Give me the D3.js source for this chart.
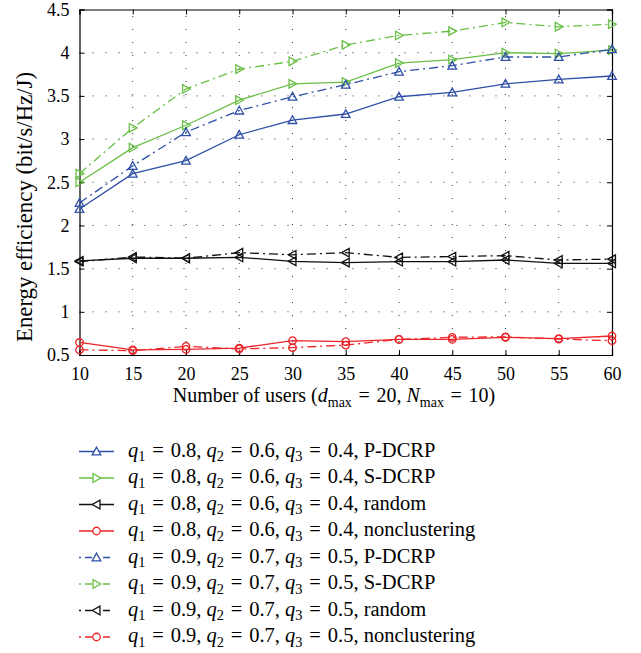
<!DOCTYPE html>
<html>
<head>
<meta charset="utf-8">
<script src="https://cdn.jsdelivr.net/npm/d3@7"></script>
<style>
  html, body { margin: 0; padding: 0; background: #fff; }
  svg text { font-family: 'Liberation Serif', serif; }
</style>
</head>
<body>
<svg id="chart" width="641" height="653"></svg>
<script>
// number of users (x axis)
const users = [10, 15, 20, 25, 30, 35, 40, 45, 50, 55, 60];
const yTicks = [0.5, 1, 1.5, 2, 2.5, 3, 3.5, 4, 4.5];

// q1 = 0.8, q2 = 0.6, q3 = 0.4  (solid)
const pdcrpA  = [2.19, 2.60, 2.75, 3.05, 3.22, 3.29, 3.49, 3.54, 3.64, 3.69, 3.73];
const sdcrpA  = [2.50, 2.90, 3.16, 3.45, 3.64, 3.66, 3.88, 3.92, 4.00, 3.99, 4.03];
const randomA = [1.59, 1.62, 1.62, 1.63, 1.585, 1.57, 1.58, 1.58, 1.60, 1.56, 1.56];
const noncluA = [0.645, 0.56, 0.565, 0.58, 0.666, 0.655, 0.68, 0.68, 0.705, 0.69, 0.72];
// q1 = 0.9, q2 = 0.7, q3 = 0.5  (dash-dot)
const pdcrpB  = [2.26, 2.69, 3.08, 3.33, 3.49, 3.63, 3.78, 3.85, 3.95, 3.95, 4.04];
const sdcrpB  = [2.60, 3.13, 3.58, 3.81, 3.90, 4.09, 4.20, 4.25, 4.35, 4.30, 4.33];
const randomB = [1.58, 1.635, 1.62, 1.685, 1.66, 1.685, 1.63, 1.64, 1.65, 1.60, 1.61];
const noncluB = [0.56, 0.55, 0.60, 0.57, 0.585, 0.615, 0.68, 0.705, 0.71, 0.685, 0.666];

const qA = ["0.8", "0.6", "0.4"];
const qB = ["0.9", "0.7", "0.5"];
const methods = ["P-DCRP", "S-DCRP", "random", "nonclustering"];

const colors = { "P-DCRP": "#2d4fa6", "S-DCRP": "#69bf45", "random": "#111111", "nonclustering": "#ec2428" };
const shapes = { "P-DCRP": "up", "S-DCRP": "right", "random": "left", "nonclustering": "circle" };

const series = [
  { m: methods[0], q: qA, dash: false, v: pdcrpA },
  { m: methods[1], q: qA, dash: false, v: sdcrpA },
  { m: methods[2], q: qA, dash: false, v: randomA },
  { m: methods[3], q: qA, dash: false, v: noncluA },
  { m: methods[0], q: qB, dash: true, v: pdcrpB },
  { m: methods[1], q: qB, dash: true, v: sdcrpB },
  { m: methods[2], q: qB, dash: true, v: randomB },
  { m: methods[3], q: qB, dash: true, v: noncluB }
];

const FONT = "'Liberation Serif', serif";
const EQ = "\u2004=\u2004";
const L = 79.5, R = 612, T = 9.5, B = 355;
const svg = d3.select("#chart");

const x = d3.scaleLinear().domain([10, 60]).range([L, R]);
const y = d3.scaleLinear().domain([0.5, 4.5]).range([B, T]);

const dashPat = "9,4,2,4";

// grid
const grid = svg.append("g").attr("stroke", "#333").attr("stroke-width", 1).attr("stroke-dasharray", "1,12");
grid.selectAll(".gx").data(users.slice(1, -1)).join("line")
  .attr("x1", d => x(d)).attr("x2", d => x(d)).attr("y1", B).attr("y2", T);
grid.selectAll(".gy").data(yTicks.slice(1, -1)).join("line")
  .attr("y1", d => y(d)).attr("y2", d => y(d)).attr("x1", L).attr("x2", R);

// axes, ticks pointing inward
const fmt = d3.format("~g");
svg.append("g").attr("transform", `translate(0,${B})`)
  .call(d3.axisBottom(x).tickValues(users).tickSize(-5).tickPadding(12).tickFormat(fmt));
svg.append("g").attr("transform", `translate(0,${T})`)
  .call(d3.axisTop(x).tickValues(users).tickSize(-5).tickFormat(""));
svg.append("g").attr("transform", `translate(${L},0)`)
  .call(d3.axisLeft(y).tickValues(yTicks).tickSize(-5).tickPadding(10).tickFormat(fmt));
svg.append("g").attr("transform", `translate(${R},0)`)
  .call(d3.axisRight(y).tickValues(yTicks).tickSize(-5).tickFormat(""));
svg.selectAll(".domain").attr("stroke", "#000").attr("stroke-width", 1.2);
svg.selectAll(".tick line").attr("stroke", "#000").attr("stroke-width", 1);
svg.selectAll(".tick text").attr("font-size", 18).attr("fill", "#000").style("font-family", FONT);

function markerPath(shape) {
  const s = 4.3;
  if (shape === "up") return `M0,${-s}L${s},${s * 0.8}L${-s},${s * 0.8}Z`;
  if (shape === "right") return `M${s},0L${-s * 0.8},${s}L${-s * 0.8},${-s}Z`;
  if (shape === "left") return `M${-s},0L${s * 0.8},${s}L${s * 0.8},${-s}Z`;
  return d3.symbol(d3.symbolCircle, 44)();
}

const line = d3.line().x((d, i) => x(users[i])).y(d => y(d));

const plot = svg.append("g");
series.forEach(s => {
  const c = colors[s.m];
  plot.append("path").attr("d", line(s.v)).attr("fill", "none")
    .attr("stroke", c).attr("stroke-width", 1.3)
    .attr("stroke-dasharray", s.dash ? dashPat : null);
  plot.selectAll(null).data(s.v).join("path")
    .attr("d", markerPath(shapes[s.m]))
    .attr("transform", (d, i) => `translate(${x(users[i])},${y(d)})`)
    .attr("fill", "none").attr("stroke", c).attr("stroke-width", 1.3);
});

// rich text helper: parts = [text, style]
function rich(t, parts, size) {
  let shift = 0;
  t.style("font-family", FONT);
  parts.forEach(([txt, st]) => {
    const sp = t.append("tspan").text(txt);
    if (st === "i") sp.attr("font-style", "italic");
    if (st === "sub") {
      sp.attr("font-size", size * 0.7).attr("dy", size * 0.24);
      shift = size * 0.24;
    } else if (shift) {
      sp.attr("dy", -shift);
      shift = 0;
    }
  });
}

// axis labels
const xl = svg.append("text").attr("x", 334).attr("y", 402)
  .attr("text-anchor", "middle").attr("font-size", 20);
rich(xl, [["Number of users (", ""], ["d", "i"], ["max", "sub"], [EQ + "20, ", ""], ["N", "i"], ["max", "sub"], [EQ + "10)", ""]], 20);

svg.append("text").attr("transform", "translate(32,207) rotate(-90)")
  .attr("text-anchor", "middle").attr("font-size", 22.8).style("font-family", FONT)
  .text("Energy efficiency (bit/s/Hz/J)");

// legend
const lg = svg.append("g");
series.forEach((s, k) => {
  const ry = 451.5 + k * 26.5;
  const c = colors[s.m];
  lg.append("line").attr("x1", 79).attr("x2", 114).attr("y1", ry).attr("y2", ry)
    .attr("stroke", c).attr("stroke-width", 1.3)
    .attr("stroke-dasharray", s.dash ? "2,4,7,5" : null);
  lg.append("path").attr("d", markerPath(shapes[s.m]))
    .attr("transform", `translate(96.5,${ry})`)
    .attr("fill", "#fff").attr("stroke", c).attr("stroke-width", 1.3);
  const t = lg.append("text").attr("x", 128).attr("y", ry + 5).attr("font-size", 20.5);
  rich(t, [["q", "i"], ["1", "sub"], [EQ + s.q[0] + ", ", ""], ["q", "i"], ["2", "sub"],
    [EQ + s.q[1] + ", ", ""], ["q", "i"], ["3", "sub"], [EQ + s.q[2] + ", " + s.m, ""]], 20.5);
});
</script>
</body>
</html>
